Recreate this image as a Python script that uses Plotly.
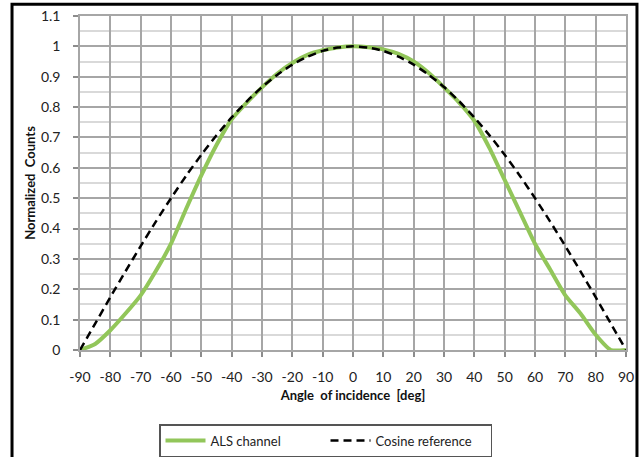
import plotly.graph_objects as go

angles = [-90, -85, -80, -75, -70, -65, -60, -55, -50, -45, -40, -35, -30, -25, -20, -15, -10, -5,
          0, 5, 10, 15, 20, 25, 30, 35, 40, 45, 50, 55, 60, 65, 70, 75, 80, 85, 90]

als_channel = [0.0, 0.02, 0.065, 0.12, 0.18, 0.26, 0.35, 0.465, 0.575, 0.675, 0.76, 0.815, 0.865,
               0.91, 0.945, 0.972, 0.987, 0.996, 1.0, 0.997, 0.99, 0.975, 0.95, 0.912, 0.865,
               0.815, 0.755, 0.665, 0.56, 0.455, 0.35, 0.265, 0.18, 0.12, 0.05, 0.0, 0.0]

cosine_ref = [0.0, 0.087, 0.174, 0.259, 0.342, 0.423, 0.5, 0.574, 0.643, 0.707, 0.766, 0.819, 0.866,
              0.906, 0.94, 0.966, 0.985, 0.996, 1.0, 0.996, 0.985, 0.966, 0.94, 0.906, 0.866,
              0.819, 0.766, 0.707, 0.643, 0.574, 0.5, 0.423, 0.342, 0.259, 0.174, 0.087, 0.0]

x_ticks = list(range(-90, 91, 10))
y_ticks = [0, 0.1, 0.2, 0.3, 0.4, 0.5, 0.6, 0.7, 0.8, 0.9, 1, 1.1]
y_tick_text = ["0", "0.1", "0.2", "0.3", "0.4", "0.5", "0.6", "0.7", "0.8", "0.9", "1", "1.1"]

FONT = "Lato, 'Open Sans', Arial, sans-serif"

fig = go.Figure()
fig.add_trace(go.Scatter(
    x=angles, y=als_channel, name="ALS channel", mode="lines",
    line=dict(color="#92C65A", width=4, shape="spline", smoothing=0.6),
    cliponaxis=False,
))
fig.add_trace(go.Scatter(
    x=angles, y=cosine_ref, name="Cosine reference", mode="lines",
    line=dict(color="black", width=2.5, dash="8px,5px", shape="spline", smoothing=0.6),
    cliponaxis=False,
))

fig.update_layout(
    width=642, height=457,
    margin=dict(l=80, r=16, t=16, b=107, autoexpand=False),
    paper_bgcolor="white", plot_bgcolor="white",
    font=dict(family=FONT, size=13, color="#222"),
    showlegend=True,
    legend=dict(
        orientation="h", x=0.1447, y=-0.222, xanchor="left", yanchor="top",
        bordercolor="#555", borderwidth=1.5, bgcolor="white",
        font=dict(size=13, color="#222"), entrywidth=110, itemwidth=40,
    ),
    shapes=[dict(type="rect", xref="paper", yref="paper",
                 x0=-0.1245, x1=1.0201, y0=-0.5, y1=1.035,
                 line=dict(color="black", width=3), fillcolor="rgba(0,0,0,0)")],
)

fig.update_xaxes(
    range=[-90, 90], tickvals=x_ticks, ticktext=[str(v) for v in x_ticks],
    showgrid=True, gridcolor="#A6A6A6", gridwidth=1.5,
    showline=True, linecolor="#A6A6A6", linewidth=1.5, mirror=True,
    ticks="outside", ticklen=5, tickcolor="#8C8C8C", tickwidth=1.5,
    ticklabelstandoff=8, tickfont=dict(size=14),
    zeroline=False, automargin=False,
    title=dict(text="<b>Angle  of incidence  [deg]</b>", font=dict(size=13, color="#111"), standoff=7),
)
fig.update_yaxes(
    range=[0, 1.1], tickvals=y_ticks, ticktext=y_tick_text,
    showgrid=True, gridcolor="#A6A6A6", gridwidth=1.5,
    minor=dict(dtick=0.05, showgrid=True, gridcolor="#D9D9D9", gridwidth=1.5, ticks=""),
    showline=True, linecolor="#A6A6A6", linewidth=1.5, mirror=True,
    ticks="outside", ticklen=5, tickcolor="#8C8C8C", tickwidth=1.5,
    ticklabelstandoff=10, tickfont=dict(size=14),
    zeroline=True, zerolinecolor="#8C8C8C", zerolinewidth=2.5, automargin=False,
    title=dict(text="<b>Normalized  Counts</b>", font=dict(size=13, color="#111"), standoff=2),
)

fig.write_html("out.html", config={"displayModeBar": False},
               post_script="document.body.style.margin='0';")
